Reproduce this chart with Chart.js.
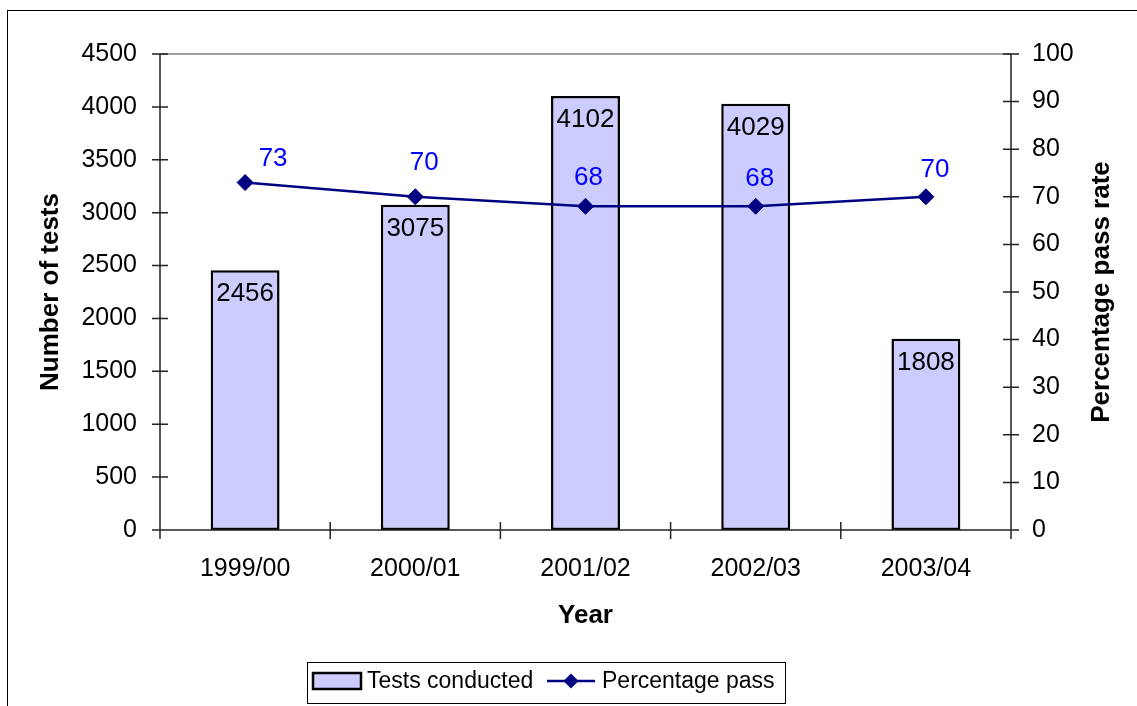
<!DOCTYPE html>
<html>
<head>
<meta charset="utf-8">
<script src="https://cdn.jsdelivr.net/npm/chart.js@4.4.0/dist/chart.umd.min.js"></script>
<style>
  body { margin: 0; background: #fff; }
  canvas { display: block; }
</style>
</head>
<body>
<canvas id="myChart" width="1137" height="706"></canvas>
<script>
const years = ['1999/00', '2000/01', '2001/02', '2002/03', '2003/04'];
const testsConducted = [2456, 3075, 4102, 4029, 1808];
const percentagePass = [73, 70, 68, 68, 70];
const testTicks = [0, 500, 1000, 1500, 2000, 2500, 3000, 3500, 4000, 4500];
const passTicks = [0, 10, 20, 30, 40, 50, 60, 70, 80, 90, 100];

// small nudges of the line labels (Excel had them moved by hand)
const passLabelShiftX = [28, 9, 3, 4, 9];
const passLabelShiftY = [-24, -34, -28, -27, -27];

const FONT = '"Liberation Sans", Arial, sans-serif';

const extras = {
    id: 'extras',
    beforeDraw(chart) {
        const c = chart.ctx;
        c.save();
        c.fillStyle = '#fff';
        c.fillRect(0, 0, chart.width, chart.height);
        c.strokeStyle = '#000';
        c.lineWidth = 1;
        c.strokeRect(7.5, 10.5, 1300, 900);
        c.restore();
    },
    afterDatasetsDraw(chart) {
        const c = chart.ctx;
        const a = chart.chartArea;
        const y = chart.scales.y, y1 = chart.scales.y1;
        c.save();
        // plot border top
        c.strokeStyle = '#808080';
        c.lineWidth = 1.5;
        c.beginPath();
        c.moveTo(a.left, a.top);
        c.lineTo(a.right, a.top);
        c.stroke();
        // axes
        c.strokeStyle = '#222';
        c.beginPath();
        c.moveTo(a.left, a.top); c.lineTo(a.left, a.bottom);
        c.moveTo(a.right, a.top); c.lineTo(a.right, a.bottom);
        c.moveTo(a.left, a.bottom); c.lineTo(a.right, a.bottom);
        for (const v of testTicks) {
            const py = y.getPixelForValue(v);
            c.moveTo(a.left - 8, py); c.lineTo(a.left + 8, py);
        }
        for (const v of passTicks) {
            const py = y1.getPixelForValue(v);
            c.moveTo(a.right - 8, py); c.lineTo(a.right + 8, py);
        }
        const step = (a.right - a.left) / years.length;
        for (let i = 0; i <= years.length; i++) {
            const px = a.left + i * step;
            c.moveTo(px, a.bottom - 8); c.lineTo(px, a.bottom + 9);
        }
        c.stroke();

        // data labels
        c.font = '26px ' + FONT;
        c.textAlign = 'center';
        c.textBaseline = 'middle';
        c.fillStyle = '#000';
        chart.getDatasetMeta(0).data.forEach((bar, i) => {
            c.fillText(String(testsConducted[i]), bar.x, bar.y + 24);
        });
        c.fillStyle = '#0000FF';
        chart.getDatasetMeta(1).data.forEach((pt, i) => {
            c.fillText(String(percentagePass[i]), pt.x + passLabelShiftX[i], pt.y + passLabelShiftY[i]);
        });

        // right axis title
        c.fillStyle = '#000';
        c.font = 'bold 26px ' + FONT;
        c.translate(1102, (a.top + a.bottom) / 2);
        c.rotate(-Math.PI / 2);
        c.fillText('Percentage pass rate', 0, 0);
        c.restore();

        // legend
        c.save();
        const ds = chart.data.datasets;
        c.strokeStyle = '#000';
        c.lineWidth = 1;
        c.strokeRect(307.5, 662.5, 478, 41);
        const ly = 681;
        c.fillStyle = ds[0].backgroundColor;
        c.fillRect(313, 673, 48, 16);
        c.lineWidth = 2.5;
        c.strokeRect(313, 673, 48, 16);
        c.font = '23px ' + FONT;
        c.textAlign = 'left';
        c.textBaseline = 'middle';
        c.fillStyle = '#000';
        c.fillText(ds[0].label, 367, ly + 1);
        c.strokeStyle = ds[1].borderColor;
        c.lineWidth = 2.5;
        c.beginPath();
        c.moveTo(547, ly); c.lineTo(595, ly);
        c.stroke();
        c.fillStyle = ds[1].borderColor;
        c.beginPath();
        c.moveTo(571, ly - 7.5); c.lineTo(578.5, ly); c.lineTo(571, ly + 7.5); c.lineTo(563.5, ly);
        c.closePath();
        c.fill();
        c.fillStyle = '#000';
        c.fillText(ds[1].label, 602, ly + 1);
        c.restore();
    }
};

const tickFont = { family: FONT, size: 25 };
const titleFont = { family: FONT, size: 26, weight: 'bold' };

const ctx = document.getElementById('myChart').getContext('2d');
const myChart = new Chart(ctx, {
    type: 'bar',
    data: {
        labels: years,
        datasets: [{
            type: 'bar',
            label: 'Tests conducted',
            data: testsConducted,
            yAxisID: 'y',
            backgroundColor: '#CCCCFF',
            borderColor: '#000',
            borderWidth: 2.5,
            borderSkipped: false,
            barPercentage: 0.405,
            categoryPercentage: 1,
            order: 2
        }, {
            type: 'line',
            label: 'Percentage pass',
            data: percentagePass,
            yAxisID: 'y1',
            borderColor: '#000080',
            backgroundColor: '#000080',
            borderWidth: 2.5,
            pointStyle: 'rectRot',
            pointRadius: 8,
            pointBackgroundColor: '#000080',
            pointBorderColor: '#000080',
            pointBorderWidth: 1,
            tension: 0,
            order: 1
        }]
    },
    options: {
        responsive: false,
        animation: false,
        layout: { padding: { top: 54, left: 0, right: 0, bottom: 0 } },
        plugins: {
            legend: { display: false },
            tooltip: { enabled: false }
        },
        scales: {
            x: {
                grid: { display: false, drawTicks: false },
                border: { display: false },
                ticks: { font: tickFont, color: '#000', padding: 24, maxRotation: 0 },
                title: { display: true, text: 'Year', font: titleFont, color: '#000', padding: { top: 0, bottom: 75 } },
                afterFit(scale) { scale.height = 176; }
            },
            y: {
                position: 'left',
                min: 0,
                max: 4500,
                grid: { display: false, drawTicks: false },
                border: { display: false },
                ticks: { stepSize: 500, font: tickFont, color: '#000', padding: 23, callback: v => String(v) },
                title: { display: true, text: 'Number of tests', font: titleFont, color: '#000', padding: { top: 35, bottom: 0 } },
                afterFit(scale) { scale.width = 160; }
            },
            y1: {
                position: 'right',
                min: 0,
                max: 100,
                grid: { display: false, drawTicks: false },
                border: { display: false },
                ticks: { stepSize: 10, font: tickFont, color: '#000', padding: 21, callback: v => String(v) },
                afterFit(scale) { scale.width = 126; }
            }
        }
    },
    plugins: [extras]
});
</script>
</body>
</html>
